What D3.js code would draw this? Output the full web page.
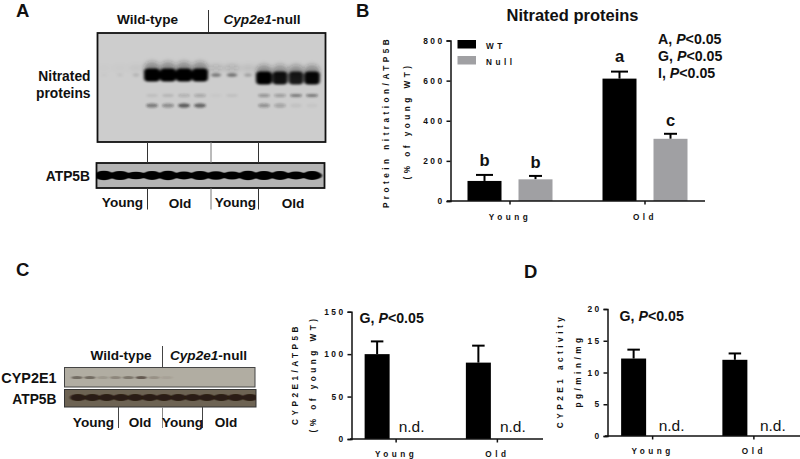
<!DOCTYPE html>
<html><head><meta charset="utf-8">
<script src="https://cdn.jsdelivr.net/npm/d3@7/dist/d3.min.js"></script>
<style>
html,body{margin:0;padding:0;background:#fff}
svg{display:block}
text{font-family:"Liberation Sans",Arial,sans-serif;fill:#111}
.tick text{font-weight:bold;font-size:8.4px;letter-spacing:2.4px}
.sp{font-weight:bold;font-size:8.2px;letter-spacing:3.5px}
</style></head><body>
<svg id="c" width="800" height="459"></svg>
<script>
// ---- data ----
const groupsB = ["Young", "Old"];
const seriesB = ["WT", "Null"];
const wtB = [100, 610];
const nullB = [108, 310];
const wtErrB = [130, 645];
const nullErrB = [125, 335];
const lettersWtB = ["b", "a"];
const lettersNullB = ["b", "c"];
const ticksB = [0, 200, 400, 600, 800];
const statsB = [["A, ", "P", "<0.05"], ["G, ", "P", "<0.05"], ["I, ", "P", "<0.05"]];

const groupsCD = ["Young", "Old"];
const wtC = [100, 90];
const wtErrC = [115, 110];
const ticksC = [0, 50, 100, 150];
const wtD = [12.2, 12];
const wtErrD = [13.6, 13];
const ticksD = [0, 5, 10, 15, 20];

// blot band densities per lane (0-1)
const nitratedMain = [0.03, 0.06, 0.12, 1, 1, 1, 1, 0.42, 0.45, 0.22, 1, 0.92, 0.88, 0.97];
const nitratedMid = [0, 0, 0, 0.08, 0.12, 0.18, 0.24, 0.03, 0.07, 0, 0.35, 0.3, 0.5, 0.5];
const nitratedLow = [0, 0, 0, 0.5, 0.4, 0.7, 0.65, 0, 0, 0, 0.35, 0.25, 0.06, 0.04];
const atpA = [1, 0.95, 0.7, 0.9, 1, 0.75, 0.95, 0.85, 0.8, 1, 0.95, 0.9, 0.75, 0.9];
const cyp2e1 = [0.6, 0.6, 0.2, 0.35, 0.5, 0.75, 0.25, 0.1, 0, 0, 0, 0, 0, 0];
const atpC = [1, 1, 1, 1, 1, 1, 1, 1, 1, 1, 1, 1, 1];

const svg = d3.select("#c");
const defs = svg.append("defs");
[["b1", 1.3, 0.8], ["b2", 1.4, 1.3], ["b3", 1.1, 0.6], ["b4", 2, 2.4]].forEach(([id, sx, sy]) => {
  defs.append("filter").attr("id", id).attr("x", "-40%").attr("y", "-80%").attr("width", "180%").attr("height", "260%")
    .append("feGaussianBlur").attr("stdDeviation", sx + " " + sy);
});

function txt(x, y, s, size, opt = {}) {
  return svg.append("text").attr("x", x).attr("y", y).text(s).attr("font-size", size)
    .attr("font-weight", opt.normal ? "normal" : "bold")
    .attr("text-anchor", opt.anchor || "start");
}
function rich(x, y, parts, size, anchor) {
  const t = svg.append("text").attr("x", x).attr("y", y).attr("font-size", size)
    .attr("font-weight", "bold").attr("text-anchor", anchor || "start");
  parts.forEach((p, i) => t.append("tspan").text(p).attr("font-style", p === "P" || p === "Cyp2e1" ? "italic" : "normal"));
}
function seg(x1, y1, x2, y2, col, w) {
  svg.append("line").attr("x1", x1).attr("y1", y1).attr("x2", x2).attr("y2", y2)
    .attr("stroke", col || "#222").attr("stroke-width", w || 1);
}

// panel letters
[["A", 16, 16.5], ["B", 356, 16.5], ["C", 16, 276], ["D", 524, 278]].forEach(d => txt(d[1], d[2], d[0], 18.5));

// ---- Blot A ----
const laneA = d3.scaleLinear().domain([0, 13]).range([104, 312]);
function blotFrame(x, y, w, h, fill, stroke, sw) {
  svg.append("rect").attr("x", x).attr("y", y).attr("width", w).attr("height", h).attr("fill", fill)
    .attr("stroke", stroke).attr("stroke-width", sw);
}
defs.append("clipPath").attr("id", "ca").append("rect").attr("x", 97).attr("y", 33).attr("width", 228).attr("height", 109);
blotFrame(97.5, 33, 228, 109, "#cdcdcd", "#111", 1.8);
const gA = svg.append("g").attr("clip-path", "url(#ca)");
gA.append("g").attr("filter", "url(#b4)").selectAll("ellipse").data(nitratedMain).join("ellipse")
  .attr("cx", (d, i) => laneA(i)).attr("cy", (d, i) => i > 9 ? 71 : 68)
  .attr("rx", 8).attr("ry", d => d > 0.8 ? 6 : 3).attr("fill", "#222").attr("opacity", d => d * 0.4);
gA.append("g").attr("filter", "url(#b2)").selectAll("rect").data(nitratedMain).join("rect")
  .attr("x", (d, i) => laneA(i) - (2.5 + 5.5 * d))
  .attr("y", (d, i) => (i > 9 ? 78 : 75) - (d > 0.8 ? 6.5 : 1.8))
  .attr("width", d => 5 + 11 * d).attr("height", d => d > 0.8 ? 13 : 3.6)
  .attr("rx", 4).attr("fill", "#000").attr("opacity", d => d);
gA.append("g").attr("filter", "url(#b1)").selectAll("ellipse").data(nitratedMid).join("ellipse")
  .attr("cx", (d, i) => laneA(i)).attr("cy", 95.5)
  .attr("rx", 6).attr("ry", 1.6).attr("fill", "#222").attr("opacity", d => d);
gA.append("g").attr("filter", "url(#b1)").selectAll("ellipse").data(nitratedLow).join("ellipse")
  .attr("cx", (d, i) => laneA(i)).attr("cy", 105.5)
  .attr("rx", 6).attr("ry", 2).attr("fill", "#222").attr("opacity", d => d);

defs.append("clipPath").attr("id", "cb").append("rect").attr("x", 96).attr("y", 163).attr("width", 229).attr("height", 25);
blotFrame(96.5, 163, 228, 25, "#b4b4b4", "#111", 1.8);
svg.append("g").attr("clip-path", "url(#cb)").append("g").attr("filter", "url(#b3)")
  .selectAll("ellipse").data(atpA).join("ellipse")
  .attr("cx", (d, i) => laneA(i)).attr("cy", 175.5)
  .attr("rx", 10).attr("ry", d => 1.5 + 3.2 * d).attr("fill", "#050505");

txt(147.5, 24, "Wild-type", 13.6, { anchor: "middle" });
rich(262, 24, ["Cyp2e1", "-null"], 13.6, "middle");
seg(208.5, 10, 208.5, 32, "#333");
txt(90.5, 81, "Nitrated", 13.8, { anchor: "end" });
txt(90.5, 98, "proteins", 13.8, { anchor: "end" });
txt(90, 181, "ATP5B", 13.8, { anchor: "end" });
[147.5, 211, 258.5].forEach((x, i) => {
  seg(x, 142, x, 163, i === 1 ? "#777" : "#333");
  seg(x, 188, x, 209.5, i === 1 ? "#777" : "#333");
});
[[122.5, 207, "Young"], [180, 208, "Old"], [235.5, 207, "Young"], [293, 208, "Old"]].forEach(d => txt(d[0], d[1], d[2], 13.6, { anchor: "middle" }));

// ---- Blot C ----
const laneCtop = d3.scaleLinear().domain([0, 13]).range([77, 244]);
const laneCbot = d3.scaleLinear().domain([0, 12]).range([78, 250]);
defs.append("clipPath").attr("id", "cc").append("rect").attr("x", 64).attr("y", 367).attr("width", 191).attr("height", 20);
blotFrame(64.5, 367.5, 190.5, 19.5, "#b1ada2", "#444", 1);
svg.append("g").attr("clip-path", "url(#cc)").append("g").attr("filter", "url(#b3)")
  .selectAll("ellipse").data(cyp2e1).join("ellipse")
  .attr("cx", (d, i) => laneCtop(i)).attr("cy", 377.5)
  .attr("rx", 5.5).attr("ry", 1.5).attr("fill", "#4a3f35").attr("opacity", d => d);
defs.append("clipPath").attr("id", "cd").append("rect").attr("x", 64).attr("y", 389).attr("width", 192).attr("height", 18);
blotFrame(64.5, 389.5, 191.5, 17.5, "#6d6353", "#333", 1);
svg.append("g").attr("clip-path", "url(#cd)").append("g").attr("filter", "url(#b3)")
  .selectAll("ellipse").data(atpC).join("ellipse")
  .attr("cx", (d, i) => laneCbot(i)).attr("cy", 397.5)
  .attr("rx", 8).attr("ry", 3.6).attr("fill", "#2a1c12");

txt(121, 360, "Wild-type", 13.6, { anchor: "middle" });
rich(208.5, 360, ["Cyp2e1", "-null"], 13.6, "middle");
seg(162.5, 346, 162.5, 367, "#444");
txt(56.5, 383, "CYP2E1", 14.4, { anchor: "end" });
txt(56.5, 404, "ATP5B", 13.8, { anchor: "end" });
seg(118.5, 407, 118.5, 428, "#444");
seg(162.5, 407, 162.5, 428, "#888");
seg(202.5, 407, 202.5, 428, "#444");
[[93.5, "Young"], [140, "Old"], [182.5, "Young"], [226, "Old"]].forEach(d => txt(d[0], 427, d[1], 13.6, { anchor: "middle" }));

// ---- bar chart helpers ----
function yAxis(scale, ticks, x) {
  const g = svg.append("g").attr("transform", `translate(${x},0)`)
    .call(d3.axisLeft(scale).tickValues(ticks).tickSize(4).tickPadding(2).tickFormat(d3.format("d")));
  g.selectAll(".domain").attr("stroke", "#111").attr("stroke-width", 1.5);
  g.selectAll(".tick line").attr("stroke", "#111").attr("stroke-width", 1.5);
  g.selectAll(".tick text").attr("fill", "#111");
  return g;
}
function xAxis(scale, y, x0, x1, labelY) {
  seg(x0, y, x1, y, "#111", 1.5);
  scale.domain().forEach(d => {
    const x = scale(d) + scale.bandwidth() / 2;
    seg(x, y, x, y + 3.5, "#111", 1.5);
    svg.append("text").attr("class", "sp").attr("x", x).attr("y", labelY).attr("text-anchor", "middle").text(d);
  });
}
function vLabel(x, y, s) {
  svg.append("text").attr("class", "sp").attr("transform", `translate(${x},${y}) rotate(-90)`)
    .attr("text-anchor", "middle").text(s);
}
function bars(x, y, vals, errs, w, col, capW, cats) {
  cats.forEach((c, i) => {
    seg(x(c), y(errs[i]), x(c), y(vals[i]), "#000", 2);
    seg(x(c) - capW / 2, y(errs[i]), x(c) + capW / 2, y(errs[i]), "#000", 2);
    svg.append("rect").attr("x", x(c) - w / 2).attr("y", y(vals[i])).attr("width", w)
      .attr("height", y(0) - y(vals[i])).attr("fill", col);
  });
}

// ---- Panel B ----
const yB = d3.scaleLinear().domain([0, 800]).range([201, 40.5]);
const xB = d3.scaleBand().domain(groupsB).range([442.5, 712.5]);
const offB = d3.scaleOrdinal().domain(seriesB).range([-25.5, 25.5]);
const xBw = c => xB(c) + xB.bandwidth() / 2 + offB("WT");
const xBn = c => xB(c) + xB.bandwidth() / 2 + offB("Null");
bars(xBw, yB, wtB, wtErrB, 34, "#000", 17, groupsB);
bars(xBn, yB, nullB, nullErrB, 34, "#a0a0a3", 13, groupsB);
yAxis(yB, ticksB, 450.5);
xAxis(xB, 201, 447, 705, 220);
groupsB.forEach((c, i) => {
  txt(xBw(c), yB(wtErrB[i]) - (i ? 10 : 8.5), lettersWtB[i], 16.5, { anchor: "middle" });
  txt(xBn(c), yB(nullErrB[i]) - 8, lettersNullB[i], 16.5, { anchor: "middle" });
});
vLabel(389, 122, "Protein nitration/ATP5B");
vLabel(410, 121, "(% of young WT)");
txt(572.5, 21, "Nitrated proteins", 16.5, { anchor: "middle" });
statsB.forEach((p, i) => rich(658, 44 + i * 17, p, 14.2));
const legend = svg.append("g");
legend.selectAll("rect").data(seriesB).join("rect")
  .attr("x", 457.5).attr("y", (d, i) => 40 + i * 16).attr("width", 18.5).attr("height", 8.5)
  .attr("fill", (d, i) => i ? "#a0a0a3" : "#000");
legend.selectAll("text").data(seriesB).join("text").attr("class", "sp")
  .attr("x", 486).attr("y", (d, i) => 49 + i * 15.5).attr("letter-spacing", 4).text(d => d);

// ---- Panel C ----
const yC = d3.scaleLinear().domain([0, 150]).range([439, 311.7]);
const xC = d3.scaleBand().domain(groupsCD).range([345.5, 548]);
const xCw = c => xC(c) + xC.bandwidth() / 2 - 19;
bars(xCw, yC, wtC, wtErrC, 25, "#000", 12.5, groupsCD);
yAxis(yC, ticksC, 351.5);
xAxis(xC, 439, 350, 543, 456.5);
vLabel(298, 374, "CYP2E1/ATP5B");
vLabel(316, 374, "(% of young WT)");
rich(359.5, 323, ["G, ", "P", "<0.05"], 14.2);
groupsCD.forEach(c => txt(xCw(c) + 21.5, 431.5, "n.d.", 15.5, { normal: true }));

// ---- Panel D ----
const yD = d3.scaleLinear().domain([0, 20]).range([436, 309]);
const xD = d3.scaleBand().domain(groupsCD).range([602, 804.5]);
const xDw = c => xD(c) + xD.bandwidth() / 2 - 19;
bars(xDw, yD, wtD, wtErrD, 25, "#000", 12.5, groupsCD);
yAxis(yD, ticksD, 607.5);
xAxis(xD, 436, 605, 800, 454);
vLabel(563, 371, "CYP2E1 activity");
vLabel(581, 371, "pg/min/mg");
rich(619.5, 321, ["G, ", "P", "<0.05"], 14.2);
groupsCD.forEach(c => txt(xDw(c) + 25, 431, "n.d.", 15.5, { normal: true }));
</script>
</body></html>
